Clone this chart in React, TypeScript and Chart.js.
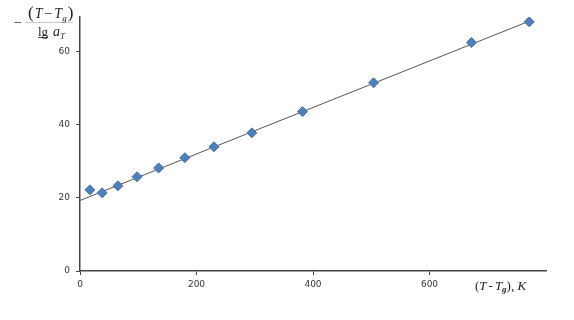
import React, { useEffect, useRef } from "react";
import { Chart, registerables } from "chart.js";
Chart.register(...registerables);

const pointX = [17, 38, 65, 98, 135, 180, 230, 295, 382, 504, 672, 771];
const pointY = [22.2, 21.4, 23.3, 25.8, 28.2, 31.0, 34.0, 37.8, 43.6, 51.5, 62.5, 68.2];
const trendX = [0, 775];
const trendY = [19.3, 68.6];
const xTicks = [0, 200, 400, 600];
const yTicks = [0, 20, 40, 60];

const titlePlugin = {
  id: "titles",
  afterDraw(chart: any) {
    const ctx = chart.ctx;
    ctx.save();
    ctx.fillStyle = "#222";
    ctx.textBaseline = "alphabetic";
    const it = "italic 14px 'Liberation Serif', serif";
    const rg = "14px 'Liberation Serif', serif";
    const sub = "italic 9px 'Liberation Serif', serif";
    const par = "17px 'Liberation Serif', serif";
    // minus
    ctx.font = rg;
    ctx.fillText("\u2212", 14, 27);
    // numerator (T − Tg)
    let x = 28;
    const yn = 18;
    ctx.font = par;
    ctx.fillText("(", x, yn); x += ctx.measureText("(").width + 1;
    ctx.font = it; ctx.fillText("T", x, yn); x += ctx.measureText("T").width + 2;
    ctx.font = rg; ctx.fillText("\u2212", x, yn); x += ctx.measureText("\u2212").width + 2;
    ctx.font = it; ctx.fillText("T", x, yn); x += ctx.measureText("T").width;
    ctx.font = sub; ctx.fillText("g", x, yn + 3); x += ctx.measureText("g").width + 1;
    ctx.font = par;
    ctx.fillText(")", x, yn);
    x += ctx.measureText(")").width;
    // fraction bar
    ctx.fillStyle = "rgba(60,60,60,0.35)";
    ctx.fillRect(26, 22, x - 26, 0.8);
    ctx.fillStyle = "#222";
    // denominator lg aT
    let x2 = 38;
    const yd = 36;
    ctx.font = "13px 'Liberation Serif', serif"; ctx.fillText("lg", x2, yd);
    ctx.fillRect(x2, yd + 1, ctx.measureText("lg").width, 0.8);
    x2 += ctx.measureText("lg").width + 5;
    ctx.font = it; ctx.fillText("a", x2, yd); x2 += ctx.measureText("a").width;
    ctx.font = sub; ctx.fillText("T", x2, yd + 3);
    // x-axis title (T - Tg), K
    let x3 = 475;
    const y3 = 290;
    const it2 = "italic 13px 'Liberation Serif', serif";
    const rg2 = "13px 'Liberation Serif', serif";
    ctx.font = rg2; ctx.fillText("(", x3, y3); x3 += ctx.measureText("(").width;
    ctx.font = it2; ctx.fillText("T", x3, y3); x3 += ctx.measureText("T").width + 2;
    ctx.font = rg2; ctx.fillText("-", x3, y3); x3 += ctx.measureText("-").width + 2;
    ctx.font = it2; ctx.fillText("T", x3, y3); x3 += ctx.measureText("T").width;
    ctx.font = "italic bold 9px 'Liberation Serif', serif"; ctx.fillText("g", x3, y3 + 2); x3 += ctx.measureText("g").width;
    ctx.font = rg2; ctx.fillText("), ", x3, y3); x3 += ctx.measureText("), ").width;
    ctx.font = it2; ctx.fillText("K", x3, y3);
    ctx.restore();
  },
};

export default function App() {
  const ref = useRef<HTMLCanvasElement>(null);
  useEffect(() => {
    const chart = new Chart(ref.current as HTMLCanvasElement, {
      type: "scatter",
      data: {
        datasets: [
          {
            type: "line",
            data: trendX.map((v, i) => ({ x: v, y: trendY[i] })),
            borderColor: "#555",
            borderWidth: 1,
            pointRadius: 0,
            order: 2,
          } as any,
          {
            data: pointX.map((v, i) => ({ x: v, y: pointY[i] })),
            pointStyle: "rectRot",
            pointRadius: 5,
            backgroundColor: "#4f7fba",
            borderColor: "#4572a7",
            borderWidth: 1,
            order: 1,
          },
        ],
      },
      options: {
        animation: false,
        responsive: false,
        layout: { padding: { left: 0, right: 28, top: 17, bottom: 0 } },
        plugins: { legend: { display: false }, tooltip: { enabled: false } },
        scales: {
          x: {
            type: "linear",
            min: 0,
            max: 800,
            afterBuildTicks: (s: any) => {
              s.ticks = xTicks.map((v) => ({ value: v }));
            },
            afterFit: (s: any) => {
              s.height = 320 - 271;
            },
            grid: { drawOnChartArea: false, drawTicks: true, tickLength: 4, color: "#444" },
            border: { color: "#444", width: 1.5 },
            ticks: { color: "#333", font: { family: "DejaVu Sans", size: 9 }, padding: 4 },
          },
          y: {
            type: "linear",
            min: 0,
            max: 69.5,
            afterBuildTicks: (s: any) => {
              s.ticks = yTicks.map((v) => ({ value: v }));
            },
            afterFit: (s: any) => {
              s.width = 80;
            },
            grid: { drawOnChartArea: false, drawTicks: true, tickLength: 4, color: "#444" },
            border: { color: "#444", width: 1.5 },
            ticks: { color: "#333", font: { family: "DejaVu Sans", size: 9 }, padding: 6 },
          },
        },
      },
      plugins: [titlePlugin],
    });
    return () => chart.destroy();
  }, []);
  return (
    <div style={{ position: "fixed", left: 0, top: 0, width: 574, height: 320, background: "#fff" }}>
      <canvas ref={ref} width={574} height={320} />
    </div>
  );
}
